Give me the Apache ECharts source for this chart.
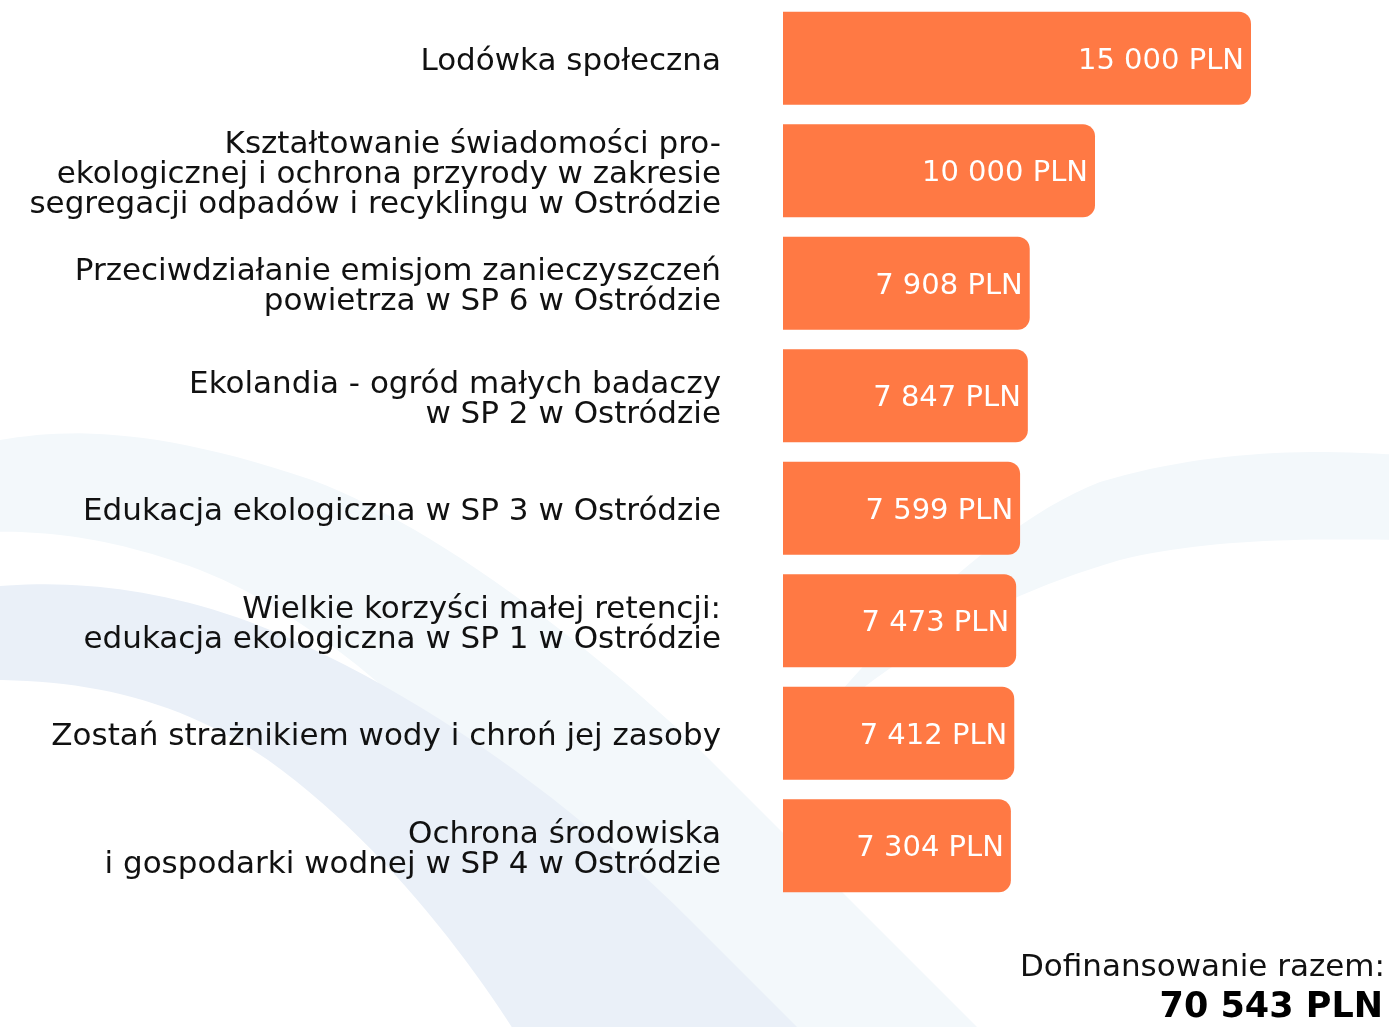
<!DOCTYPE html>
<html>
<head>
<meta charset="utf-8">
<script src="https://cdn.jsdelivr.net/npm/echarts@6/dist/echarts.min.js"></script>
<style>
  html, body { margin: 0; padding: 0; background: #ffffff; }
  #chart { width: 1389px; height: 1027px; }
</style>
</head>
<body>
<div id="chart"></div>
<script>
// Projects and the grant each one received (PLN)
const projects = [
  'Lodówka społeczna',
  'Kształtowanie świadomości pro-\nekologicznej i ochrona przyrody w zakresie\nsegregacji odpadów i recyklingu w Ostródzie',
  'Przeciwdziałanie emisjom zanieczyszczeń\npowietrza w SP 6 w Ostródzie',
  'Ekolandia - ogród małych badaczy\nw SP 2 w Ostródzie',
  'Edukacja ekologiczna w SP 3 w Ostródzie',
  'Wielkie korzyści małej retencji:\nedukacja ekologiczna w SP 1 w Ostródzie',
  'Zostań strażnikiem wody i chroń jej zasoby',
  'Ochrona środowiska\ni gospodarki wodnej w SP 4 w Ostródzie'
];
const grants = [15000, 10000, 7908, 7847, 7599, 7473, 7412, 7304];

const totalCaption = 'Dofinansowanie razem:';
const currency = 'PLN';

// "15000" -> "15 000"
function groupThousands(v) {
  return String(v).replace(/\B(?=(\d{3})+(?!\d))/g, ' ');
}
const total = grants.reduce((a, b) => a + b, 0);

// Turn a list of [start, [c1, c2, end], ..., [x, y] ...] segments
// (cubic curves or straight points) into polygon vertices.
function ribbon(segments) {
  const pts = [];
  let cur = segments[0];
  pts.push(cur);
  for (let i = 1; i < segments.length; i++) {
    const s = segments[i];
    if (typeof s[0] === 'number') { pts.push(s); cur = s; continue; }
    const [c1, c2, end] = s;
    for (let k = 1; k <= 24; k++) {
      const t = k / 24, u = 1 - t;
      pts.push([
        u * u * u * cur[0] + 3 * u * u * t * c1[0] + 3 * u * t * t * c2[0] + t * t * t * end[0],
        u * u * u * cur[1] + 3 * u * u * t * c1[1] + 3 * u * t * t * c2[1] + t * t * t * end[1]
      ]);
    }
    cur = end;
  }
  return pts;
}

const FONT = '"DejaVu Sans", sans-serif';

const chart = echarts.init(document.getElementById('chart'), null, { renderer: 'canvas' });

chart.setOption({
  backgroundColor: '#ffffff',
  animation: false,
  grid: { left: 783, right: 138, top: 2, bottom: 125, containLabel: false },
  xAxis: {
    type: 'value',
    min: 0,
    max: 15000,
    show: false
  },
  yAxis: {
    type: 'category',
    inverse: true,
    data: projects,
    axisLine: { show: false },
    axisTick: { show: false },
    splitLine: { show: false },
    axisLabel: {
      interval: 0,
      margin: 62,
      align: 'right',
      color: '#111111',
      fontFamily: FONT,
      fontSize: 31,
      lineHeight: 30,
      // a thin spacer line on top nudges the text block slightly down
      formatter: v => '{s|}\n' + v.split('\n').map(l => '{t|' + l + '}').join('\n'),
      rich: {
        s: { fontSize: 1, lineHeight: 8 },
        t: { fontFamily: FONT, fontSize: 31, lineHeight: 30, color: '#111111', align: 'right' }
      }
    }
  },
  series: [{
    type: 'bar',
    data: grants,
    barWidth: 93,
    itemStyle: {
      color: '#FF7944',
      borderRadius: [0, 12, 12, 0]
    },
    label: {
      show: true,
      position: 'insideRight',
      distance: 7,
      offset: [0, 3],
      color: '#ffffff',
      fontFamily: FONT,
      fontSize: 29,
      formatter: p => groupThousands(p.value) + ' ' + currency
    },
    z: 5
  }],
  graphic: [
    // soft wave ribbons in the background
    {
      type: 'polygon', z: -10, silent: true,
      shape: { points: ribbon([
        [-10, 442],
        [[60, 428], [150, 425], [312, 480]],
        [[420, 520], [560, 620], [690, 740]],
        [990, 1040], [700, 1040],
        [[560, 860], [380, 640], [200, 570]],
        [[120, 540], [50, 530], [-10, 532]]
      ]) },
      style: { fill: '#F3F8FB' }
    },
    {
      type: 'polygon', z: -9, silent: true,
      shape: { points: ribbon([
        [-10, 587],
        [[60, 580], [150, 585], [250, 622]],
        [[400, 680], [560, 790], [690, 920]],
        [810, 1040], [520, 1040],
        [[470, 960], [380, 840], [268, 760]],
        [[180, 700], [90, 680], [-10, 680]]
      ]) },
      style: { fill: '#EAF0F8' }
    },
    {
      type: 'polygon', z: -10, silent: true,
      shape: { points: ribbon([
        [800, 740],
        [[880, 640], [1000, 520], [1100, 482]],
        [[1200, 452], [1300, 448], [1400, 455]],
        [1400, 540],
        [[1300, 538], [1200, 540], [1120, 560]],
        [[1000, 595], [900, 650], [800, 740]]
      ]) },
      style: { fill: '#F3F8FB' }
    },
    {
      type: 'text', z: 100, silent: true,
      style: {
        x: 1385, y: 968,
        text: totalCaption,
        fill: '#111111',
        font: '31px ' + FONT,
        textAlign: 'right',
        textVerticalAlign: 'middle'
      }
    },
    {
      type: 'text', z: 100, silent: true,
      style: {
        x: 1383, y: 1008,
        text: groupThousands(total) + ' ' + currency,
        fill: '#000000',
        font: 'bold 35px ' + FONT,
        textAlign: 'right',
        textVerticalAlign: 'middle'
      }
    }
  ]
});
</script>
</body>
</html>
